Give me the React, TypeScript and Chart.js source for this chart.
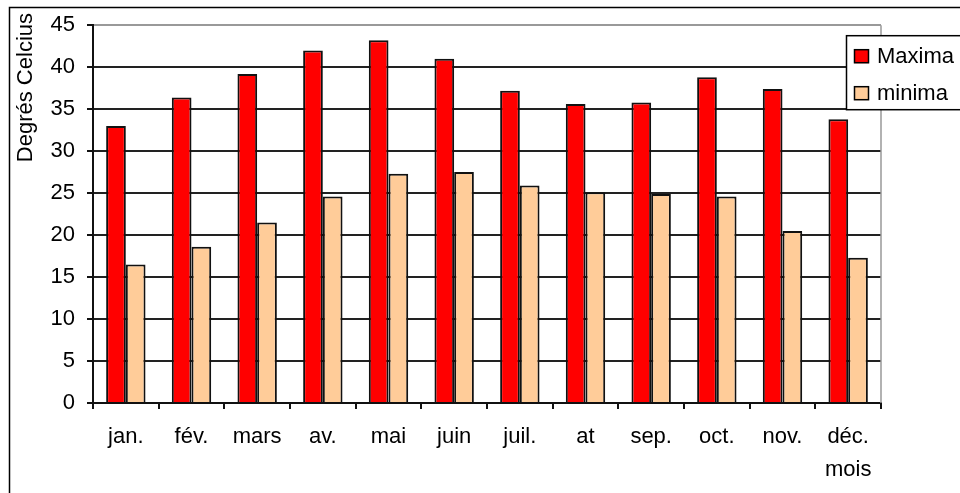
import React, { useEffect, useRef } from "react";
import { Chart, registerables } from "chart.js";

Chart.register(...registerables);

const months = ["jan.", "fév.", "mars", "av.", "mai", "juin", "juil.", "at", "sep.", "oct.", "nov.", "déc."];
const maxima = [33.0, 36.4, 39.2, 42.0, 43.2, 41.0, 37.2, 35.6, 35.8, 38.8, 37.4, 33.8];
const minima = [16.5, 18.6, 21.5, 24.6, 27.3, 27.5, 25.9, 25.1, 24.9, 24.6, 20.5, 17.3];
const seriesLabels = ["Maxima", "minima"];
const seriesColors = ["#FF0000", "#FFCC99"];
const yTitle = "Degrés Celcius";
const xTitle = "mois";
const yTicks = { min: 0, max: 45, step: 5 };

const FONT = "'Liberation Sans', Arial, sans-serif";
const FS = 22;

const decorPlugin = {
  id: "decor",
  beforeDraw(chart: any) {
    const { ctx, width, height } = chart;
    ctx.save();
    ctx.fillStyle = "#fff";
    ctx.fillRect(0, 0, width, height);
    ctx.strokeStyle = "#000";
    ctx.lineWidth = 1.5;
    ctx.strokeRect(9.5, 7.5, width + 20, height + 20);
    ctx.restore();
  },
  afterDraw(chart: any) {
    const { ctx, chartArea } = chart;
    const xs = chart.scales.x;
    ctx.save();
    // right border of plot area
    ctx.strokeStyle = "#999";
    ctx.lineWidth = 1.5;
    ctx.beginPath();
    ctx.moveTo(chartArea.right, chartArea.top);
    ctx.lineTo(chartArea.right, chartArea.bottom);
    ctx.stroke();

    // y title
    ctx.fillStyle = "#000";
    ctx.font = `${FS}px ${FONT}`;
    ctx.save();
    ctx.translate(32, 13);
    ctx.rotate(-Math.PI / 2);
    ctx.textAlign = "right";
    ctx.textBaseline = "alphabetic";
    ctx.fillText(yTitle, 0, 0);
    ctx.restore();

    // x title
    ctx.textAlign = "center";
    ctx.textBaseline = "alphabetic";
    ctx.fillText(xTitle, xs.getPixelForValue(months.length - 1), 476);

    // legend
    const lx = chartArea.right - 35;
    const ly = chartArea.top + 10;
    ctx.fillStyle = "#fff";
    ctx.fillRect(lx, ly, 200, 74);
    ctx.strokeStyle = "#000";
    ctx.lineWidth = 1.5;
    ctx.strokeRect(lx + 0.5, ly + 0.5, 200, 74);
    chart.data.datasets.forEach((ds: any, i: number) => {
      const cy = ly + 21 + i * 37;
      ctx.fillStyle = ds.backgroundColor;
      ctx.fillRect(lx + 8, cy - 7, 15, 14);
      ctx.strokeStyle = "#000";
      ctx.lineWidth = 1.5;
      ctx.strokeRect(lx + 8.5, cy - 6.5, 14, 13);
      ctx.fillStyle = "#000";
      ctx.textAlign = "left";
      ctx.textBaseline = "middle";
      ctx.fillText(ds.label, lx + 31, cy + 1);
    });
    ctx.restore();
  },
};

export default function App() {
  const ref = useRef<HTMLCanvasElement | null>(null);
  useEffect(() => {
    if (!ref.current) return;
    const chart = new Chart(ref.current, {
      type: "bar",
      data: {
        labels: months,
        datasets: [
          { label: seriesLabels[0], data: maxima, backgroundColor: seriesColors[0], borderColor: "#111", borderWidth: 2 },
          { label: seriesLabels[1], data: minima, backgroundColor: seriesColors[1], borderColor: "#111", borderWidth: 2 },
        ],
      },
      options: {
        animation: false,
        responsive: false,
        maintainAspectRatio: false,
        layout: { padding: { left: 0, right: 79, top: 25, bottom: 0 } },
        datasets: { bar: { categoryPercentage: 0.6, barPercentage: 1.0 } },
        plugins: { legend: { display: false }, tooltip: { enabled: false } },
        scales: {
          x: {
            afterFit: (s: any) => { s.height = 90; },
            grid: { display: true, drawOnChartArea: false, drawTicks: true, offset: true, tickLength: 6, color: "#111", lineWidth: 2 },
            border: { display: true, color: "#111", width: 2 },
            ticks: { color: "#000", font: { family: FONT, size: FS }, padding: 15, maxRotation: 0 },
          },
          y: {
            min: yTicks.min,
            max: yTicks.max,
            afterFit: (s: any) => { s.width = 93; },
            grid: {
              color: (c: any) => (c.tick && c.tick.value === yTicks.max ? "#999" : "#222"),
              tickColor: "#111",
              lineWidth: 2,
              tickLength: 6,
            },
            border: { display: true, color: "#111", width: 2 },
            ticks: { stepSize: yTicks.step, color: "#000", font: { family: FONT, size: FS }, padding: 12 },
          },
        },
      },
      plugins: [decorPlugin],
    });
    return () => chart.destroy();
  }, []);
  return (
    <div style={{ position: "absolute", left: 0, top: 0, width: 960, height: 493, overflow: "hidden" }}>
      <canvas ref={ref} width={960} height={493} style={{ display: "block" }} />
    </div>
  );
}
